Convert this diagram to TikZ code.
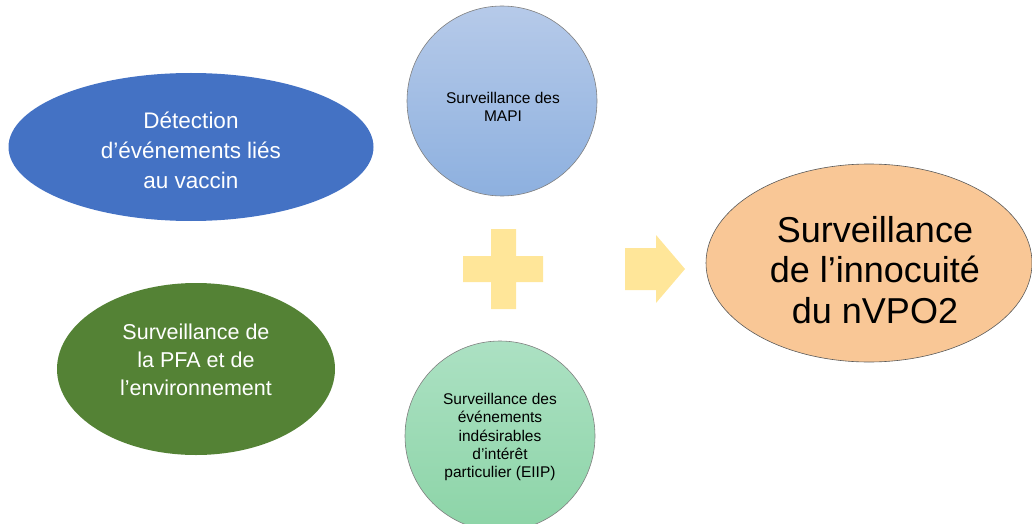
\documentclass[tikz,border=0pt]{standalone}
\usepackage{fontspec}
\setmainfont{Liberation Sans}
\usetikzlibrary{shapes.geometric}
\definecolor{cblue}{HTML}{4472C4}
\definecolor{cgreen}{HTML}{548235}
\definecolor{ctopA}{HTML}{B6CAE9}
\definecolor{ctopB}{HTML}{8DB0DF}
\definecolor{cbotA}{HTML}{ACE1C3}
\definecolor{cbotB}{HTML}{8CD4A7}
\definecolor{corange}{HTML}{F9C796}
\definecolor{cyellow}{HTML}{FFE699}
\definecolor{cedge}{HTML}{808080}
\tikzset{
  bigell/.style={ellipse, inner sep=0pt, align=center, text=white},
  circnode/.style={circle, inner sep=0pt, minimum size=190pt, draw=cedge, line width=0.6pt},
  smalltxt/.style={font=\fontsize{15.5}{18.3}\selectfont, align=center, text=black},
  shapefill/.style={fill=cyellow, draw=none}
}
\begin{document}
\begin{tikzpicture}[x=1pt,y=1pt]
\useasboundingbox (0,0) rectangle (1032,523);
\clip (0,0) rectangle (1032,523);
% left ellipses
\node[bigell, fill=cblue, minimum width=365pt, minimum height=148pt] (det) at (191,376) {};
\node[text=white, align=center, font=\fontsize{22.5}{30}\selectfont] (dett) at (191,373)
  {Détection\\d’événements liés\\au vaccin};
\node[bigell, fill=cgreen, minimum width=278pt, minimum height=172pt] (pfa) at (196,154) {};
\node[text=white, align=center, font=\fontsize{21.5}{28}\selectfont] (pfat) at (196,163)
  {Surveillance de\\la PFA et de\\l’environnement};
% circles
\node[circnode, top color=ctopA, bottom color=ctopB] (mapi) at (502,422) {};
\node[smalltxt] (mapit) at (503,416) {Surveillance des\\MAPI};
\node[circnode, top color=cbotA, bottom color=cbotB] (eiip) at (500,87) {};
\node[smalltxt] (eiipt) at (500,86)
  {Surveillance des\\événements\\indésirables\\d’intérêt\\particulier (EIIP)};
% plus
\fill[shapefill] (491,294) -- (516,294) -- (516,267) -- (543,267) -- (543,241)
  -- (516,241) -- (516,214) -- (491,214) -- (491,241) -- (463,241) -- (463,267)
  -- (491,267) -- cycle;
% arrow
\fill[shapefill] (625,275) -- (656,275) -- (656,288) -- (685,254) -- (656,220)
  -- (656,233) -- (625,233) -- cycle;
% right ellipse
\node[ellipse, inner sep=0pt, minimum width=326pt, minimum height=198pt,
      fill=corange, draw=cedge!70!black, line width=0.6pt] (res) at (869,260) {};
\node[align=center, font=\fontsize{36}{40.5}\selectfont] (rest) at (875,253)
  {Surveillance\\de l’innocuité\\du nVPO2};
\end{tikzpicture}
\end{document}
